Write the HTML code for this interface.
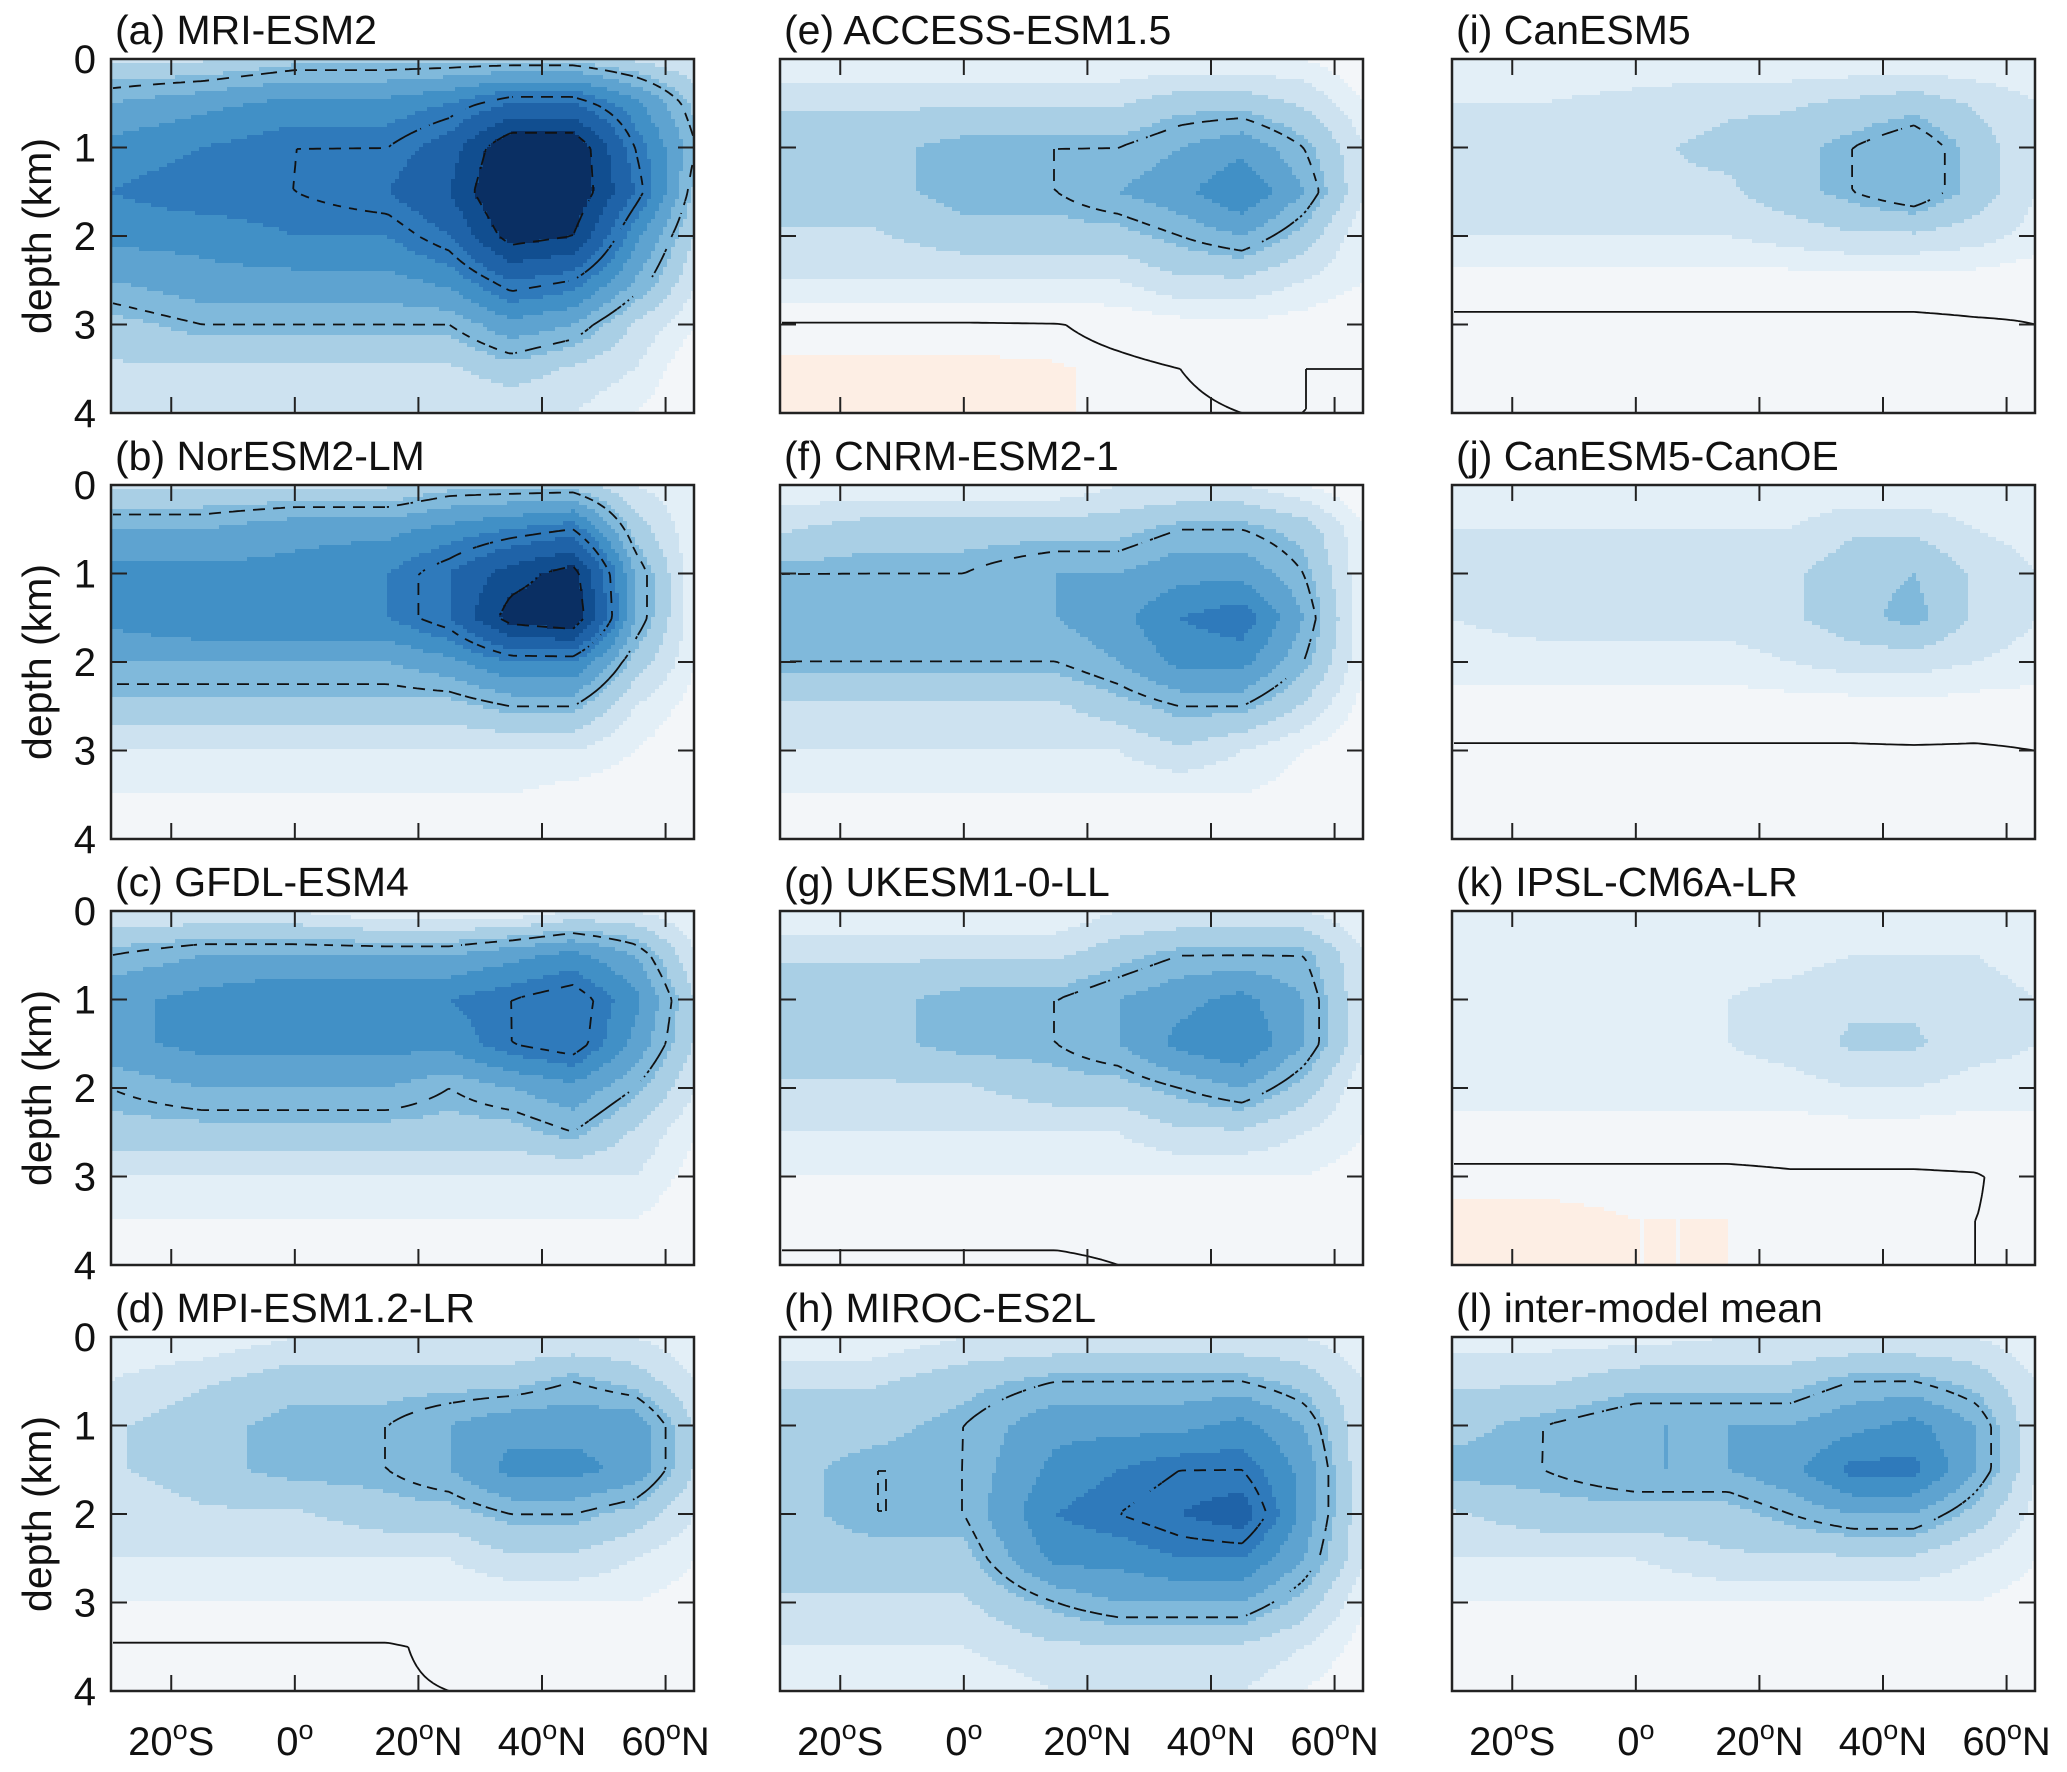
<!DOCTYPE html>
<html><head><meta charset="utf-8">
<style>
html,body{margin:0;padding:0;background:#fff;}
svg{display:block;font-family:"Liberation Sans",Arial,sans-serif;}
</style></head>
<body>
<svg id="fig" width="2067" height="1772" viewBox="0 0 2067 1772" xmlns="http://www.w3.org/2000/svg"></svg>
<script>
// Shared axes
const latNodes = [-30,-15,0,15,25,35,45,55,65];
const depthNodes = [0,0.5,1,1.5,2,2.5,3,3.5,4];
const xTicks = [-20,0,20,40,60];
const xTickLabels = ['20°S','0°','20°N','40°N','60°N'];
const yTicks = [0,1,2,3,4];
const levels = [0.3,-1,-2,-3.2,-4.5,-6,-7.5,-9,-11,-13,-15];
const levelColors = ['#fdeee4','#f3f6f9','#e3eff7','#cde2f0','#a9cfe5','#80b9db','#5ea3d0','#4190c6','#2f7abb','#1f63a8','#114e90','#0a2f63'];

const titles = ['(a) MRI-ESM2','(b) NorESM2-LM','(c) GFDL-ESM4','(d) MPI-ESM1.2-LR',
 '(e) ACCESS-ESM1.5','(f) CNRM-ESM2-1','(g) UKESM1-0-LL','(h) MIROC-ES2L',
 '(i) CanESM5','(j) CanESM5-CanOE','(k) IPSL-CM6A-LR','(l) inter-model mean'];

const fieldA = [[-3,-3,-4,-4,-4,-4,-4,-3,-2],[-6,-7,-8,-8,-9,-11,-11,-8,-4],[-8,-9,-10,-10,-12,-17,-17,-10,-5],[-9,-10,-10,-11,-13,-18,-17,-11,-4],[-8,-8,-9,-9,-11,-16,-15,-8,-3],[-6,-7,-7,-7,-8,-11,-10,-6,-2],[-4,-5,-5,-5,-5,-7,-6,-3,-1],[-3,-3,-3,-3,-3,-4,-3,-2,0],[-2,-2,-2,-2,-2,-2,-2,-1,0]];
const fieldB = [[-3,-3,-3,-3,-4,-4,-4,-2,-1],[-6,-6,-7,-7,-8,-9,-10,-4,-1],[-8,-8,-8,-9,-11,-14,-16,-6,-1],[-8,-9,-9,-9,-11,-16,-17,-6,-1],[-6,-6,-6,-6,-7,-9,-9,-4,-1],[-4,-4,-4,-4,-4,-5,-5,-2,-0.5],[-2,-2,-2,-2,-2,-2,-2,-1,0],[-1,-1,-1,-1,-1,-1,-0.5,-0.3,0],[-0.5,-0.5,-0.5,-0.5,-0.5,-0.3,0,0,0]];
const fieldC = [[-2,-2,-2,-1,-1,-1,-2,-2,-1],[-5,-6,-6,-6,-6,-7,-8,-6,-2],[-7,-8,-9,-9,-9,-10,-11,-8,-3],[-7,-8,-8,-8,-8,-10,-11,-7,-3],[-5,-6,-6,-6,-5,-6,-7,-5,-2],[-4,-4,-4,-4,-4,-4,-5,-3,-1],[-2,-2,-2,-2,-2,-2,-2,-2,-0.5],[-1,-1,-1,-1,-1,-1,-1,-1,0],[-0.5,-0.5,-0.5,-0.5,-0.5,-0.5,-0.5,-0.3,0]];
const fieldD = [[-1,-1,-2,-2,-2,-2,-2,-2,-1],[-2,-3,-4,-4,-4,-4,-5,-4,-2],[-3,-4,-5,-5,-6,-7,-7,-7,-3],[-3,-4,-5,-5,-6,-8,-8,-7,-3],[-2,-3,-3,-4,-4,-5,-5,-4,-2],[-2,-2,-2,-2,-2,-3,-3,-2,-1],[-1,-1,-1,-1,-1,-1,-1,-1,-0.5],[0.1,0.1,0.1,0.1,-0.2,-0.2,-0.2,-0.2,0],[0.1,0.1,0.1,0.1,0,0,0,0,0]];
const fieldE = [[-1,-1,-1,-1,-1,-1,-1,-1,0],[-3,-3,-3,-3,-3,-4,-4,-3,-1],[-4,-4,-5,-5,-5,-6,-7,-5,-2],[-4,-4,-5,-5,-6,-7,-9,-6,-2],[-3,-3,-4,-4,-4,-5,-6,-4,-1],[-2,-2,-2,-2,-2,-3,-3,-2,-1],[0.1,0.1,0.1,0.05,-0.3,-0.6,-0.8,-0.5,0],[0.4,0.4,0.4,0.35,0.2,0,-0.2,0,0],[0.4,0.4,0.4,0.35,0.2,0.1,0,0,0]];
const fieldF = [[-1,-1,-1,-1,-2,-2,-2,-1,0],[-3,-4,-4,-4,-4,-5,-5,-4,-1],[-5,-5,-5,-6,-6,-7,-7,-5,-1],[-6,-6,-6,-6,-7,-9,-10,-6,-1],[-5,-5,-5,-5,-6,-8,-8,-5,-1],[-3,-3,-3,-3,-4,-5,-5,-3,-0.5],[-2,-2,-2,-2,-2,-3,-2,-1,0],[-1,-1,-1,-1,-1,-1,-1,-0.5,0],[-0.5,-0.5,-0.5,-0.5,-0.5,-0.5,-0.3,0,0]];
const fieldG = [[-1,-1,-1,-1,-2,-2,-2,-2,-1],[-3,-3,-3,-3,-4,-5,-5,-5,-2],[-4,-4,-5,-5,-6,-7,-8,-6,-2],[-4,-4,-5,-5,-6,-8,-9,-6,-2],[-3,-3,-3,-4,-4,-5,-6,-4,-1],[-2,-2,-2,-2,-2,-3,-3,-2,-1],[-1,-1,-1,-1,-1,-1,-1,-1,-0.5],[-0.2,-0.2,-0.2,-0.2,-0.2,-0.2,-0.2,-0.2,-0.2],[0.1,0.1,0.1,0.1,0,0,-0.2,-0.2,-0.2]];
const fieldH = [[-1,-1,-2,-2,-2,-2,-2,-2,-1],[-3,-3,-4,-5,-5,-5,-5,-4,-2],[-4,-4,-5,-7,-7,-7,-8,-6,-2],[-4,-5,-5,-8,-9,-10,-10,-7,-2],[-4,-5,-5,-9,-10,-11,-12,-7,-2],[-4,-4,-4,-8,-8,-9,-9,-6,-2],[-3,-3,-3,-5,-6,-6,-6,-4,-1],[-2,-2,-2,-3,-3,-3,-3,-2,-0.5],[-1,-1,-1,-2,-2,-2,-2,-1,0]];
const fieldI = [[-1,-1,-1,-1,-1,-1,-1,-1,-1],[-2,-2,-2.5,-3,-3,-3.5,-4,-3,-2],[-2.5,-3,-3,-3.5,-4,-5,-6,-4,-2],[-2.5,-3,-3,-3,-4,-5,-6,-4,-2],[-2,-2,-2,-2,-2.5,-3,-3,-2.5,-1.5],[-0.5,-0.5,-0.5,-0.5,-0.5,-0.5,-0.5,-0.5,-0.3],[0.2,0.2,0.2,0.2,0.2,0.2,0.2,0.1,0],[0.2,0.2,0.2,0.2,0.2,0.1,0.1,0,0],[0.2,0.2,0.2,0.1,0.1,0.1,0,0,0]];
const fieldJ = [[-1,-1,-1,-1,-1,-1,-1,-1,-1],[-2,-2,-2,-2,-2,-3,-3,-2,-1.5],[-2,-2.5,-2.5,-2.5,-3,-4,-4.5,-3,-2],[-2,-2.5,-2.5,-2.5,-3,-4,-5,-3,-2],[-1.5,-1.5,-1.5,-1.5,-2,-2.5,-2.5,-2,-1.5],[-0.5,-0.5,-0.5,-0.5,-0.5,-0.5,-0.7,-0.5,-0.5],[0.1,0.1,0.1,0.1,0.1,0.1,0.1,0.1,0],[0.1,0.1,0.1,0.1,0.1,0.1,0.1,0,0],[0.1,0.1,0.1,0.1,0.1,0.1,0,0,0]];
const fieldK = [[-1,-1,-1,-1,-1,-1,-1,-1,-1],[-1.5,-1.5,-1.5,-1.5,-1.5,-2,-2,-2,-1.5],[-2,-2,-2,-2,-2.5,-3,-3,-2.5,-2],[-2,-2,-2,-2,-2.5,-3.4,-3.4,-2.5,-2],[-1.5,-1.5,-1.5,-1.5,-1.5,-2,-2,-1.5,-1.5],[-0.5,-0.5,-0.5,-0.5,-0.5,-0.5,-0.5,-0.5,-0.5],[0.2,0.2,0.2,0.2,0.1,0.1,0.1,0.05,-0.3],[0.4,0.4,0.3,0.3,0.2,0.15,0.1,0,-0.2],[0.4,0.4,0.3,0.3,0.2,0.15,0.1,0,-0.2]];
const fieldL = [[-1.5,-1.5,-1.5,-2,-2,-2,-2,-2,-1],[-3,-3,-4,-4,-4,-5,-5,-4,-2],[-4,-5,-6,-6,-6,-7,-8,-6,-2],[-5,-5,-6,-6,-7,-9.5,-9.5,-6,-2],[-3,-4,-4,-4,-5,-6,-6,-4,-1.5],[-2,-2,-2,-3,-3,-3,-3,-2,-1],[-1,-1,-1,-1,-1,-1,-1,-1,-0.5],[-0.5,-0.5,-0.5,-0.5,-0.5,-0.5,-0.5,-0.5,-0.3],[-0.2,-0.2,-0.2,-0.2,-0.2,-0.2,-0.2,-0.2,0]];

const fields = [fieldA,fieldB,fieldC,fieldD,fieldE,fieldF,fieldG,fieldH,fieldI,fieldJ,fieldK,fieldL];

const NS='http://www.w3.org/2000/svg';
const svg=document.getElementById('fig');
const colLeft=[111,780,1452], rowTop=[59,485,911,1337], PW=583, PH=354;
const LAT0=-29.75, LAT1=64.6;

function mk(tag,attrs,parent){const e=document.createElementNS(NS,tag);for(const k in attrs)e.setAttribute(k,attrs[k]);(parent||svg).appendChild(e);return e;}
function interp(nodes,v){let i=0;while(i<nodes.length-2&&v>nodes[i+1])i++;const t=(v-nodes[i])/(nodes[i+1]-nodes[i]);return [i,Math.max(0,Math.min(1,t))];}
function value(f,lat,d){const [i,ti]=interp(latNodes,lat);const [j,tj]=interp(depthNodes,d);
  const a=f[j][i],b=f[j][i+1],c=f[j+1][i],e=f[j+1][i+1];
  return (a*(1-ti)+b*ti)*(1-tj)+(c*(1-ti)+e*ti)*tj;}
function colorIdx(v){let k=0;while(k<levels.length&&v<levels[k])k++;return k;}

fields.forEach((f,p)=>{
  const col=Math.floor(p/4), row=p%4;
  const X0=colLeft[col], Y0=rowTop[row];
  const xs=lat=>X0+(lat-LAT0)/(LAT1-LAT0)*PW;
  const ys=d=>Y0+d/4*PH;
  const g=mk('g',{});
  
  
  const t=mk('text',{x:X0+4,y:Y0-15,'font-size':41,fill:'#111'},g);
  t.textContent=titles[p];
  
  
  const cg=mk('g',{'shape-rendering':'crispEdges'},g);
  
  
  const step=4;
  const nx=Math.ceil(PW/step), ny=Math.ceil(PH/step);
  const grid=[];
  for(let j=0;j<ny;j++){
    const d=(j+0.5)*step/PH*4;
    let runStart=0, runC=-1;
    const rowVals=[];
    for(let i=0;i<=nx;i++){
      let c=-2;
      if(i<nx){const lat=LAT0+(i+0.5)*step/PW*(LAT1-LAT0);const v=value(f,lat,d);rowVals.push(v);c=colorIdx(v);}
      if(c!==runC){
        if(runC>=0){mk('rect',{x:X0+runStart*step,y:Y0+j*step,width:Math.min((i-runStart)*step,PW-runStart*step),height:Math.min(step,PH-j*step)+0.5,fill:levelColors[runC]},cg);}
        runStart=i;runC=c;
      }
    }
    grid.push(rowVals);
  }
  [[-5,true],[-10,true],[-15,true],[0,false]].forEach(([lv,dashed])=>{
    let dstr='';
    for(let j=0;j<ny-1;j++)for(let i=0;i<nx-1;i++){
      if(dashed && ((i+j)%5)>=3) continue;
      const a=grid[j][i],b=grid[j][i+1],c=grid[j+1][i+1],e=grid[j+1][i];
      const pts=[];
      const edge=(v1,v2,x1,y1,x2,y2)=>{if((v1<lv)!==(v2<lv)){const t=(lv-v1)/(v2-v1);pts.push([x1+(x2-x1)*t,y1+(y2-y1)*t]);}};
      const px=X0+(i+0.5)*step, py=Y0+(j+0.5)*step;
      edge(a,b,px,py,px+step,py);edge(b,c,px+step,py,px+step,py+step);
      edge(e,c,px,py+step,px+step,py+step);edge(a,e,px,py,px,py+step);
      if(pts.length>=2)dstr+=`M${pts[0][0].toFixed(1)},${pts[0][1].toFixed(1)}L${pts[1][0].toFixed(1)},${pts[1][1].toFixed(1)}`;
      if(pts.length===4)dstr+=`M${pts[2][0].toFixed(1)},${pts[2][1].toFixed(1)}L${pts[3][0].toFixed(1)},${pts[3][1].toFixed(1)}`;
    }
    if(dstr){const pth=mk('path',{d:dstr,fill:'none',stroke:'#111','stroke-width':1.8},g);
      
      }
  });
  const fr=mk('rect',{x:X0,y:Y0,width:PW,height:PH,fill:'none',stroke:'#222','stroke-width':2.5},g);
  
  
  xTicks.forEach((lt,k)=>{
    const x=xs(lt);
    mk('line',{x1:x,y1:Y0,x2:x,y2:Y0+16,stroke:'#222','stroke-width':2},g);
    mk('line',{x1:x,y1:Y0+PH,x2:x,y2:Y0+PH-16,stroke:'#222','stroke-width':2},g);
    if(row===3){
      const lab=mk('text',{x:x,y:1755,'font-size':40,'text-anchor':'middle',fill:'#111'},g);
      const parts=xTickLabels[k].split('°');
      lab.appendChild(document.createTextNode(parts[0]));
      const sup=mk('tspan',{'font-size':27,dy:-16},lab);sup.textContent='o';
      const rest=mk('tspan',{dy:16},lab);rest.textContent=parts[1]||'';
      
      
    }
  });
  yTicks.forEach(dv=>{
    const y=ys(dv);
    if(dv>0&&dv<4){
      mk('line',{x1:X0,y1:y,x2:X0+16,y2:y,stroke:'#222','stroke-width':2},g);
      mk('line',{x1:X0+PW,y1:y,x2:X0+PW-16,y2:y,stroke:'#222','stroke-width':2},g);
    }
    if(col===0){
      const lab=mk('text',{x:X0-15,y:y+14,'font-size':40,'text-anchor':'end',fill:'#111'},g);
      lab.textContent=String(dv);
      
      
    }
  });
  if(col===0){
    const yl=mk('text',{x:0,y:0,'font-size':41,'text-anchor':'middle',fill:'#111',transform:`translate(51,${Y0+PH/2}) rotate(-90)`},g);
    yl.textContent='depth (km)';
    
    
  }
});
</script>
</body></html>
